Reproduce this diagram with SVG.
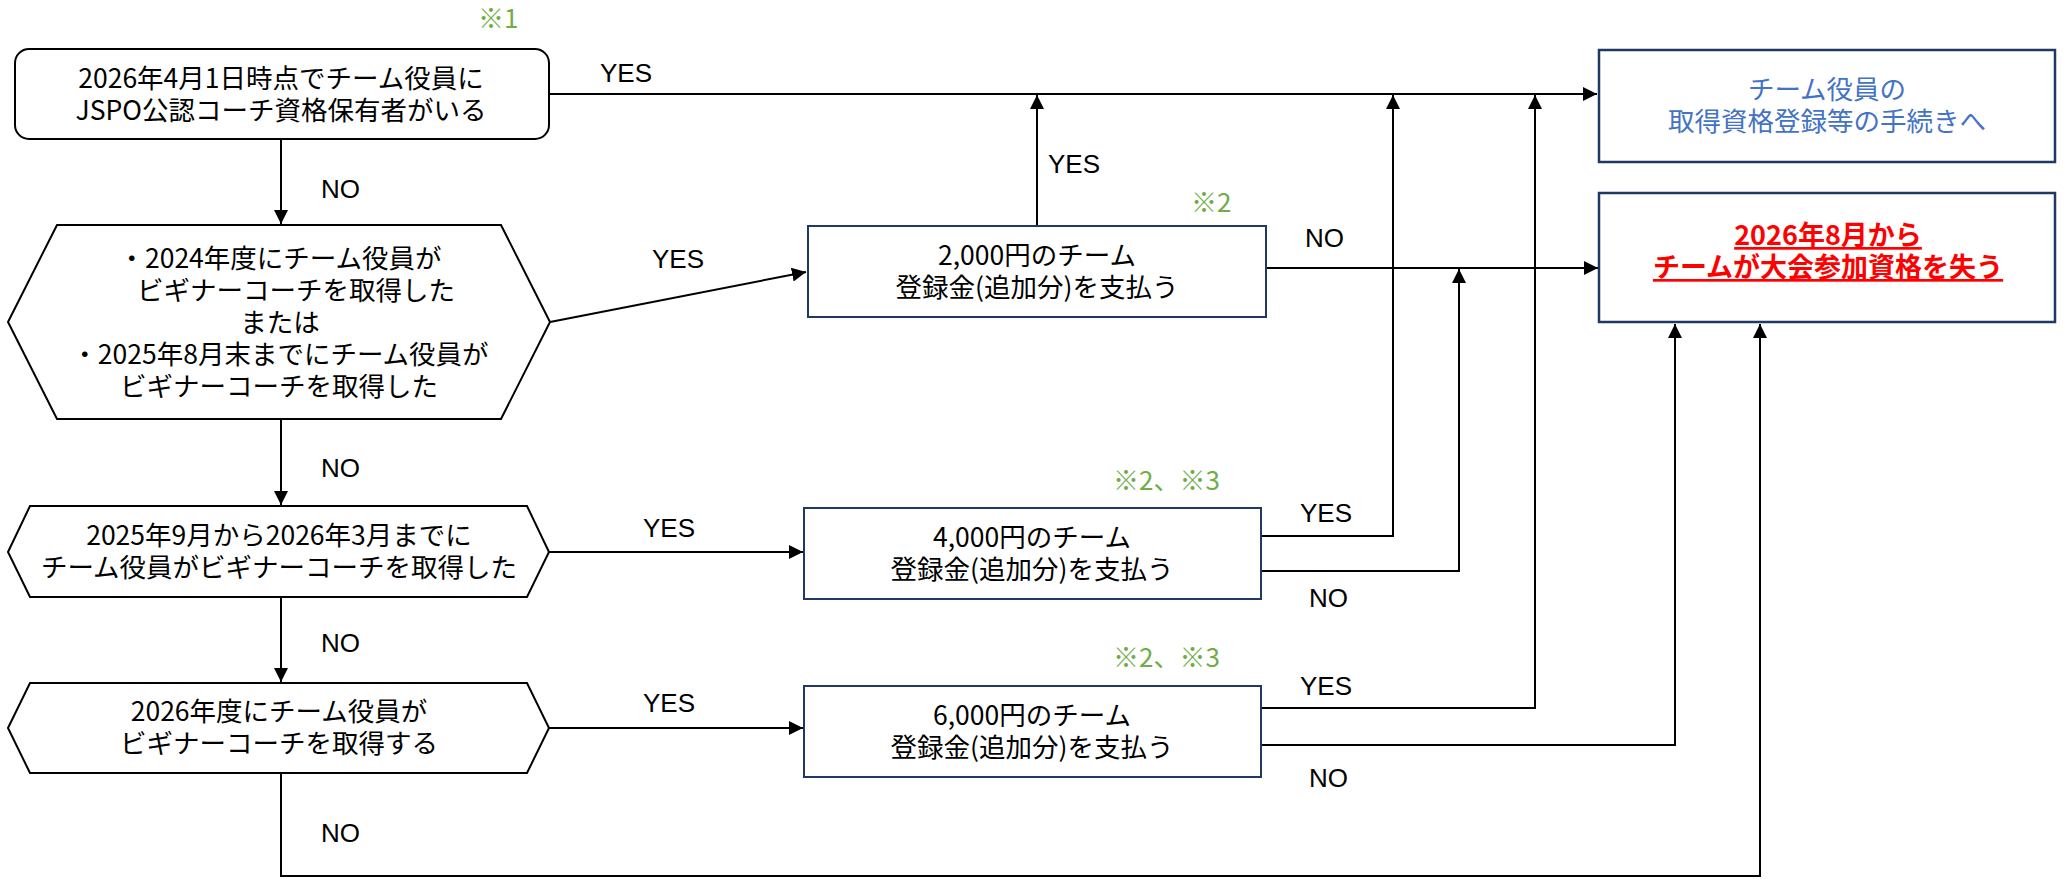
<svg xmlns="http://www.w3.org/2000/svg" width="2066" height="879" viewBox="0 0 2066 879">
<style>
.bg{fill:#ffffff}
.shape{fill:#ffffff;stroke:#000000;stroke-width:2}
.box{fill:#ffffff;stroke:#1f3864;stroke-width:2}
.box2{fill:#ffffff;stroke:#1f3864;stroke-width:2.5}
.t{font-family:"Noto Sans CJK JP","Liberation Sans",sans-serif;font-size:26.5px;fill:#000000;text-anchor:middle}
.blue{fill:#4472c4}
.red{fill:#ff0000;font-weight:bold;font-size:27px;text-decoration:underline}
.lbl{font-family:"Liberation Sans",Arial,sans-serif;font-size:26px;fill:#000000}
.note{font-family:"Noto Sans CJK JP","Liberation Sans",sans-serif;font-size:26px;fill:#70ad47}
.conn{fill:none;stroke:#000000;stroke-width:2}
</style>
<defs>
<marker id="arr" markerUnits="userSpaceOnUse" markerWidth="14" markerHeight="14" refX="14" refY="7" orient="auto">
<path d="M0,0 L14,7 L0,14 z" fill="#000000"/>
</marker>
</defs>
<rect class="bg" x="0" y="0" width="2066" height="879"/>

<g id="connectors">
<path class="conn" d="M549,94 H1597" marker-end="url(#arr)"/>
<path class="conn" d="M281,139 V224" marker-end="url(#arr)"/>
<path class="conn" d="M550,322 L806,272" marker-end="url(#arr)"/>
<path class="conn" d="M281,419 V505" marker-end="url(#arr)"/>
<path class="conn" d="M549,552 H803" marker-end="url(#arr)"/>
<path class="conn" d="M281,597 V682" marker-end="url(#arr)"/>
<path class="conn" d="M549,728 H803" marker-end="url(#arr)"/>
<path class="conn" d="M281,773 V876 H1760 V324" marker-end="url(#arr)"/>
<path class="conn" d="M1037,226 V95" marker-end="url(#arr)"/>
<path class="conn" d="M1266,268 H1598" marker-end="url(#arr)"/>
<path class="conn" d="M1261,536 H1393 V95" marker-end="url(#arr)"/>
<path class="conn" d="M1261,571 H1459 V269" marker-end="url(#arr)"/>
<path class="conn" d="M1261,708 H1535 V95" marker-end="url(#arr)"/>
<path class="conn" d="M1261,745 H1675 V324" marker-end="url(#arr)"/>
<text class="lbl" x="600" y="82">YES</text>
<text class="lbl" x="321" y="198">NO</text>
<text class="lbl" x="652" y="268">YES</text>
<text class="lbl" x="321" y="477">NO</text>
<text class="lbl" x="643" y="537">YES</text>
<text class="lbl" x="321" y="652">NO</text>
<text class="lbl" x="643" y="712">YES</text>
<text class="lbl" x="321" y="842">NO</text>
<text class="lbl" x="1048" y="173">YES</text>
<text class="lbl" x="1305" y="247">NO</text>
<text class="lbl" x="1300" y="522">YES</text>
<text class="lbl" x="1309" y="607">NO</text>
<text class="lbl" x="1300" y="695">YES</text>
<text class="lbl" x="1309" y="787">NO</text>
</g>

<g id="note1"><text class="note" x="478" y="28">※1</text></g>
<g id="note2"><text class="note" x="1191" y="212">※2</text></g>
<g id="note3"><text class="note" x="1113" y="490">※2、※3</text></g>
<g id="note4"><text class="note" x="1113" y="667">※2、※3</text></g>

<g id="start">
<rect class="shape" x="15" y="49" width="534" height="90" rx="14" ry="14"/>
<text class="t"><tspan x="281" y="88">2026年4月1日時点でチーム役員に</tspan><tspan x="281" y="120">JSPO公認コーチ資格保有者がいる</tspan></text>
</g>

<g id="q1">
<polygon class="shape" points="8,322 57,225 501,225 550,322 501,419 57,419"/>
<text class="t"><tspan x="280" y="268">・2024年度にチーム役員が</tspan><tspan x="296" y="300">ビギナーコーチを取得した</tspan><tspan x="280" y="332">または</tspan><tspan x="280" y="364">・2025年8月末までにチーム役員が</tspan><tspan x="279" y="396">ビギナーコーチを取得した</tspan></text>
</g>

<g id="q2">
<polygon class="shape" points="8,552 30,506 527,506 549,552 527,597 30,597"/>
<text class="t"><tspan x="279" y="545">2025年9月から2026年3月までに</tspan><tspan x="279" y="577">チーム役員がビギナーコーチを取得した</tspan></text>
</g>

<g id="q3">
<polygon class="shape" points="8,728 30,683 527,683 549,728 527,773 30,773"/>
<text class="t"><tspan x="279" y="721">2026年度にチーム役員が</tspan><tspan x="279" y="753">ビギナーコーチを取得する</tspan></text>
</g>

<g id="pay2000">
<rect class="box" x="808" y="226" width="458" height="91"/>
<text class="t"><tspan x="1037" y="265">2,000円のチーム</tspan><tspan x="1037" y="297">登録金(追加分)を支払う</tspan></text>
</g>

<g id="pay4000">
<rect class="box" x="804" y="508" width="457" height="91"/>
<text class="t"><tspan x="1032" y="547">4,000円のチーム</tspan><tspan x="1032" y="579">登録金(追加分)を支払う</tspan></text>
</g>

<g id="pay6000">
<rect class="box" x="804" y="686" width="457" height="91"/>
<text class="t"><tspan x="1032" y="725">6,000円のチーム</tspan><tspan x="1032" y="757">登録金(追加分)を支払う</tspan></text>
</g>

<g id="proceed">
<rect class="box2" x="1599" y="50" width="456" height="112"/>
<text class="t blue"><tspan x="1827" y="99">チーム役員の</tspan><tspan x="1827" y="131">取得資格登録等の手続きへ</tspan></text>
</g>

<g id="lose">
<rect class="box2" x="1599" y="193" width="456" height="129"/>
<text class="t red"><tspan x="1828" y="245">2026年8月から</tspan><tspan x="1828" y="277">チームが大会参加資格を失う</tspan></text>
</g>
</svg>
